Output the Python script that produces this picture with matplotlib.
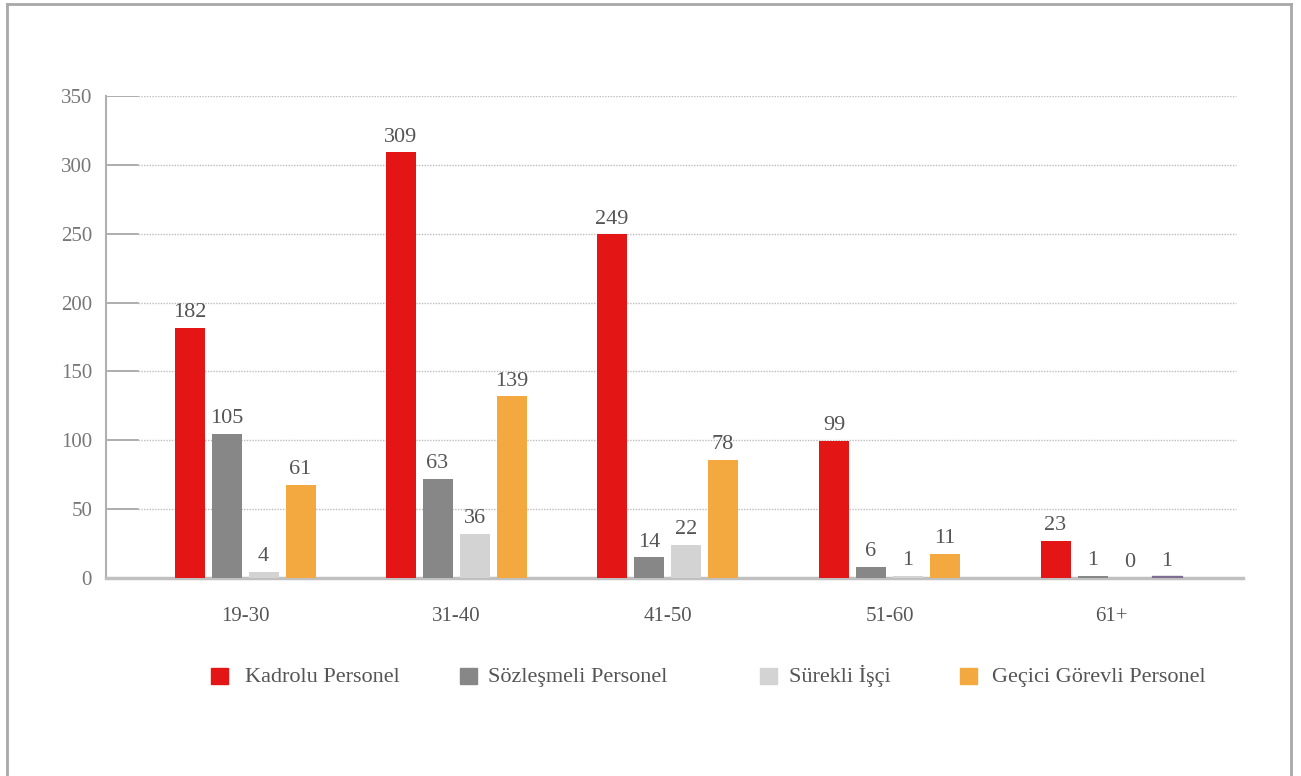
import numpy as np
import matplotlib.pyplot as plt
from matplotlib.patches import Rectangle
from matplotlib.lines import Line2D

plt.rcParams['font.family'] = ['Liberation Serif', 'DejaVu Serif']

categories = ["19-30", "31-40", "41-50", "51-60", "61+"]
series_names = ["Kadrolu Personel", "Sözleşmeli Personel", "Sürekli İşçi", "Geçici Görevli Personel"]
# bar heights as drawn in the picture
kadrolu = [181.5, 309, 249.5, 99.5, 27]
sozlesmeli = [104.8, 72, 15, 8, 1.7]
surekli = [4.6, 32, 24, 1.7, 0]
gecici = [67.5, 132, 86, 17.6, 1.2]
# printed value labels
kadrolu_lbl = [182, 309, 249, 99, 23]
sozlesmeli_lbl = [105, 63, 14, 6, 1]
surekli_lbl = [4, 36, 22, 1, 0]
gecici_lbl = [61, 139, 78, 11, 1]
yticks = [0, 50, 100, 150, 200, 250, 300, 350]

colors = ["#e31515", "#878787", "#d3d3d3", "#f4a940"]
heights = [kadrolu, sozlesmeli, surekli, gecici]
labels = [kadrolu_lbl, sozlesmeli_lbl, surekli_lbl, gecici_lbl]

W, H = 1301, 776
fig = plt.figure(figsize=(W / 100, H / 100), dpi=100)
ax = fig.add_axes([106 / W, 1 - 578 / H, (1243 - 106) / W, (578 - 96) / H])

# group centres (the original spacing is not quite even)
x = np.array([0, 0.9746, 1.9515, 2.977, 4.0])
step = 37 / 216.5
width = 30 / 216.5
text_col = "#555555"
for i in range(4):
    off = (i - 1.5) * step
    bars = ax.bar(x + off, heights[i], width, color=colors[i], zorder=5)
    for b, lbl in zip(bars, labels[i]):
        ax.annotate(str(lbl), (b.get_x() + b.get_width() / 2, b.get_height()),
                    xytext=(0, 4), textcoords="offset points",
                    ha="center", va="bottom", fontsize=16, color=text_col)
    if i == 3:
        bars[-1].set_color("#7e6d92")

ax.set_xlim((106 - 245) / 216.5, (1243 - 245) / 216.5)
ax.set_ylim(0, 350)

for s in ["top", "right"]:
    ax.spines[s].set_visible(False)
ax.spines["left"].set_color("#b0b0b0")
ax.spines["left"].set_linewidth(1.5)
ax.spines["bottom"].set_color("#c0c0c0")
ax.spines["bottom"].set_linewidth(2.5)
ax.spines["bottom"].set_zorder(2.5)

frac_tick = 32 / 1137
frac_end = 1130 / 1137
for y in yticks[1:]:
    ax.axhline(y, xmin=0, xmax=frac_tick, color="#a0a0a0", lw=1.2, zorder=1)
    ax.axhline(y, xmin=frac_tick, xmax=frac_end, color="#bdbdbd", lw=1, ls=(0, (1, 1)), zorder=1)

ax.set_yticks(yticks)
ax.set_yticklabels([str(v) for v in yticks], fontsize=15, color="#777777")
ax.tick_params(axis="y", length=0, pad=10)
ax.set_xticks(x)
ax.set_xticklabels(categories, fontsize=15, color=text_col)
ax.tick_params(axis="x", length=0, pad=21)

# legend placed by hand
leg_sq = [211, 460, 760, 960]
leg_tx = [245, 488, 789, 992]
for i in range(4):
    fig.add_artist(Rectangle((leg_sq[i] / W, 1 - 684 / H), 17 / W, 16 / H,
                             transform=fig.transFigure, color=colors[i]))
    fig.text(leg_tx[i] / W, 1 - 682 / H, series_names[i], fontsize=16,
             color=text_col, va="baseline", ha="left")

# frame around the figure
bc = "#a8a8a8"
fig.add_artist(Line2D([6.5 / W, 6.5 / W], [0, 1 - 4 / H], color=bc, lw=2, transform=fig.transFigure))
fig.add_artist(Line2D([6.5 / W, 1291 / W], [1 - 4 / H, 1 - 4 / H], color=bc, lw=2, transform=fig.transFigure))
fig.add_artist(Line2D([1291 / W, 1291 / W], [0, 1 - 4 / H], color=bc, lw=2, transform=fig.transFigure))

fig.savefig("out.png", dpi=100)
